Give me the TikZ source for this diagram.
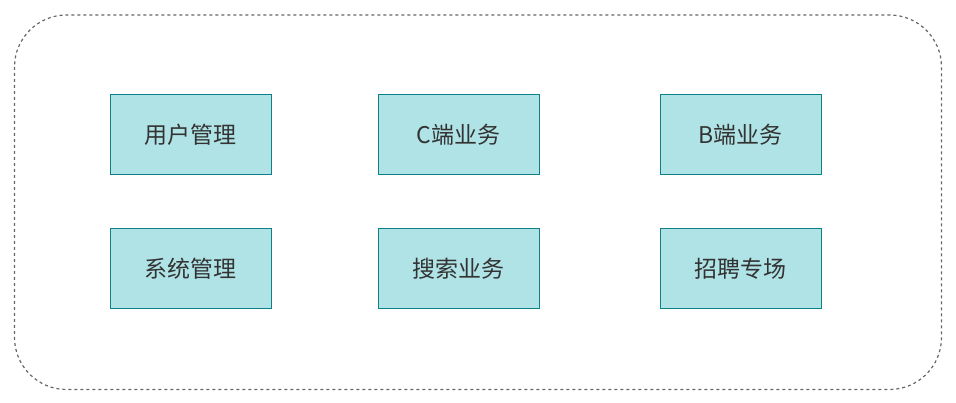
\documentclass[tikz,border=0pt]{standalone}
\usepackage{fontspec}
\newfontfamily\cjk{Noto Sans CJK SC}
\definecolor{boxfill}{HTML}{B0E3E6}
\definecolor{boxline}{HTML}{0E8088}
\definecolor{frameline}{HTML}{666666}
\definecolor{textgray}{HTML}{333333}
\tikzset{
  module/.style={draw=boxline, fill=boxfill, line width=1pt,
    minimum width=161pt, minimum height=80pt, inner sep=0pt,
    font=\cjk\fontsize{23}{27}\selectfont, text=textgray}
}
\begin{document}
\begin{tikzpicture}[x=1pt,y=-1pt]
      \useasboundingbox (0,0) rectangle (956,403);
      \draw[frameline, line width=1.2pt, dash pattern=on 3pt off 3pt, rounded corners=52pt]
        (14.5,15) rectangle (941.5,389.5);
      \draw
        (190.5,135) node[module] (user){用户管理}
        (458.5,135) node[module] (cside){C端业务}
        (740.5,135) node[module] (bside){B端业务}
        (190.5,269) node[module] (system){系统管理}
        (458.5,269) node[module] (search){搜索业务}
        (740.5,269) node[module] (hire){招聘专场};
    \end{tikzpicture}
\end{document}
